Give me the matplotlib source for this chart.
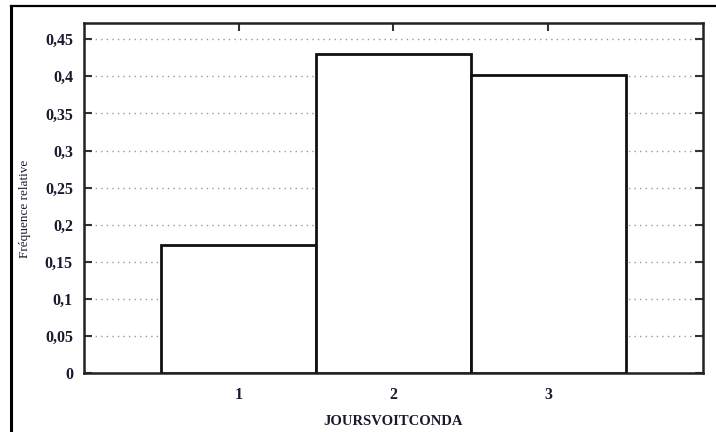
import matplotlib
matplotlib.use('Agg')
from matplotlib import pyplot as plt
from matplotlib.lines import Line2D
from matplotlib.ticker import FuncFormatter

categories = [1, 2, 3]
freq_rel = [0.1725, 0.4295, 0.4016]
y_ticks = [0, 0.05, 0.1, 0.15, 0.2, 0.25, 0.3, 0.35, 0.4, 0.45]

plt.rcParams['font.family'] = ['Liberation Serif', 'DejaVu Serif']

fig = plt.figure(figsize=(7.16, 4.32), dpi=100)
ax = fig.add_axes([0.1173, 0.1366, 0.8645, 0.8102])

ax.bar(categories, freq_rel, width=1.0, color='white', edgecolor='#111111',
       linewidth=2, zorder=3)

ax.set_xlim(0, 4)
ax.set_ylim(0, 0.472)
ax.set_xticks(categories)
ax.set_yticks(y_ticks)

def comma(v, pos):
    s = ('%.2f' % v).rstrip('0').rstrip('.')
    return s.replace('.', ',')

ax.yaxis.set_major_formatter(FuncFormatter(comma))
ax.yaxis.grid(True, linestyle=(0, (1, 3)), color='#999999', linewidth=1, zorder=0)

ax.tick_params(axis='both', direction='in', length=6, width=1.5, color='#333333',
               top=True, right=True, labelcolor='#1a1a2e', pad=8)
for lab in ax.get_xticklabels() + ax.get_yticklabels():
    lab.set_fontsize(11.5)
    lab.set_fontweight('semibold')
ax.tick_params(axis='x', pad=10)

for s in ax.spines.values():
    s.set_linewidth(1.8)
    s.set_color('#222222')

ax.set_ylabel('Fréquence relative', fontsize=9.5, color='#1a1a2e')
ax.yaxis.set_label_coords(-0.086, 0.47)
ax.set_xlabel('JOURSVOITCONDA', fontsize=10.5, fontweight='bold', color='#1a1a2e', labelpad=9)

# outer frame (top and left)
fig.add_artist(Line2D([0.0154, 1.0], [0.986, 0.986], color='black', linewidth=1.6))
fig.add_artist(Line2D([0.0154, 0.0154], [0.0, 0.986], color='black', linewidth=2.2))

fig.savefig('out.png', dpi=100)
